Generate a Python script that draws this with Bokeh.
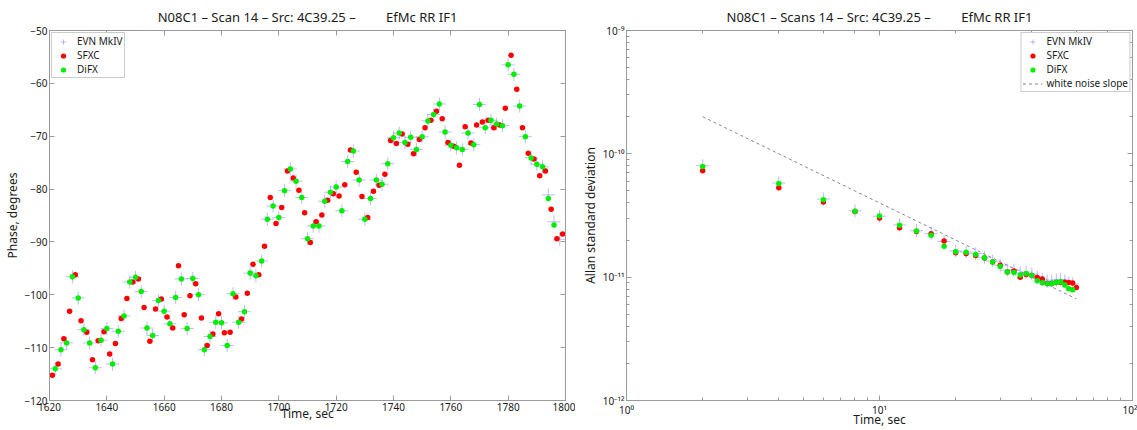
from bokeh.plotting import figure
from bokeh.layouts import row
from bokeh.models import (FixedTicker, LinearAxis, LogAxis, Legend, LegendItem,
                          CustomJSTickFormatter, LogTicker, Range1d)
from bokeh.embed import file_html
from bokeh.resources import INLINE

FONT = "Noto Sans"
NB = "\u00a0"

# ---------------- left panel data: phase vs time ----------------
sfxc_t = [1621, 1623, 1625, 1627, 1629, 1631, 1633, 1635, 1637, 1639,
          1641, 1643, 1645, 1647, 1649, 1651, 1653, 1655, 1657, 1659,
          1661, 1663, 1665, 1667, 1669, 1671, 1673, 1675, 1677, 1679,
          1681, 1683, 1685, 1687, 1689, 1691, 1693, 1695, 1697, 1699,
          1701, 1703, 1705, 1707, 1709, 1711, 1713, 1715, 1717, 1719,
          1721, 1723, 1725, 1727, 1729, 1731, 1733, 1735, 1737, 1739,
          1741, 1743, 1745, 1747, 1749, 1751, 1753, 1755, 1757, 1759,
          1761, 1763, 1765, 1767, 1769, 1771, 1773, 1775, 1777, 1779,
          1781, 1783, 1785, 1787, 1789, 1791, 1793, 1795, 1797, 1799]
sfxc_phase = [-115.2, -113.1, -108.3, -103.1, -96.2, -104.9, -107.1, -112.3, -108.7, -107.0,
              -111.2, -109.2, -104.5, -100.7, -97.6, -97.0, -102.4, -108.8, -102.7, -100.8,
              -104.2, -106.3, -94.5, -103.8, -100.2, -97.9, -104.4, -109.6, -107.4, -103.6,
              -107.2, -107.1, -100.4, -104.6, -99.7, -94.2, -96.2, -90.8, -81.6, -86.5,
              -83.5, -76.6, -77.9, -80.2, -84.5, -90.1, -86.2, -84.9, -82.1, -80.9,
              -81.3, -79.2, -72.6, -76.8, -81.4, -85.4, -80.4, -79.3, -77.2, -70.8,
              -71.4, -69.6, -71.5, -73.3, -70.6, -68.4, -67.0, -65.3, -66.7, -71.2,
              -71.9, -75.5, -68.2, -71.3, -67.9, -67.3, -67.0, -68.4, -67.9, -64.7,
              -54.7, -61.1, -68.4, -73.2, -74.3, -77.5, -76.6, -83.8, -89.4, -88.5]

difx_t = [1622, 1624, 1626, 1628, 1630, 1632, 1634, 1636, 1638, 1640,
          1642, 1644, 1646, 1648, 1650, 1652, 1654, 1656, 1658, 1660,
          1662, 1664, 1666, 1668, 1670, 1672, 1674, 1676, 1678, 1680,
          1682, 1684, 1686, 1688, 1690, 1692, 1694, 1696, 1698, 1700,
          1702, 1704, 1706, 1708, 1710, 1712, 1714, 1716, 1718, 1720,
          1722, 1724, 1726, 1728, 1730, 1732, 1734, 1736, 1738, 1740,
          1742, 1744, 1746, 1748, 1750, 1752, 1754, 1756, 1758, 1760,
          1762, 1764, 1766, 1768, 1770, 1772, 1774, 1776, 1778, 1780,
          1782, 1784, 1786, 1788, 1790, 1792, 1794, 1796]
difx_phase = [-114.0, -110.4, -109.1, -96.6, -100.6, -106.6, -109.1, -113.8, -108.6, -106.4,
              -113.1, -106.9, -104.0, -97.6, -96.7, -99.4, -106.3, -107.7, -101.1, -103.1,
              -105.5, -100.5, -97.0, -106.4, -96.9, -100.0, -110.4, -107.9, -105.2, -105.3,
              -109.6, -99.8, -105.2, -103.2, -95.9, -96.4, -93.6, -85.7, -83.2, -85.4,
              -80.3, -76.2, -78.5, -81.6, -89.4, -87.0, -87.0, -82.3, -80.6, -79.6,
              -84.1, -74.8, -72.8, -78.3, -85.7, -81.8, -78.3, -79.1, -75.2, -70.3,
              -69.4, -71.2, -70.2, -72.5, -70.1, -67.1, -65.9, -63.9, -69.2, -71.7,
              -72.2, -72.5, -69.4, -71.6, -64.0, -68.4, -67.0, -67.7, -68.0, -56.5,
              -58.3, -64.3, -70.1, -74.1, -75.3, -75.8, -81.8, -86.8]

mkiv_t = difx_t + [1798]
mkiv_phase = difx_phase[:-2] + [-81.1, -86.2, -89.5]

left_xticks = [1620, 1640, 1660, 1680, 1700, 1720, 1740, 1760, 1780, 1800]
left_yticks = [-120, -110, -100, -90, -80, -70, -60, -50]

# ---------------- right panel data: Allan deviation ----------------
difx_tau = [2, 4, 6, 8, 10, 12, 14, 16, 18, 20, 22, 24, 26, 28, 30,
            32, 34, 36, 38, 40, 42, 44, 46, 48, 50, 52, 54, 56, 58]
difx_adev = [7.9e-11, 5.75e-11, 4.24e-11, 3.43e-11, 3.13e-11, 2.64e-11, 2.37e-11, 2.19e-11,
             1.78e-11, 1.61e-11, 1.59e-11, 1.53e-11, 1.44e-11, 1.33e-11, 1.22e-11,
             1.10e-11, 1.09e-11, 1.04e-11, 1.07e-11, 1.03e-11, 9.35e-12, 9.0e-12, 8.85e-12,
             8.9e-12, 9.06e-12, 9.18e-12, 8.63e-12, 8.06e-12, 7.9e-12]

sfxc_tau = [2, 4, 6, 8, 10, 12, 14, 16, 18, 20, 22, 24, 26, 28, 30,
            32, 34, 36, 38, 40, 42, 44, 46, 48, 50, 52, 54, 56, 58, 60]
sfxc_adev = [7.3e-11, 5.3e-11, 4.07e-11, 3.4e-11, 3.02e-11, 2.51e-11, 2.35e-11, 2.25e-11,
             1.96e-11, 1.58e-11, 1.55e-11, 1.5e-11, 1.43e-11, 1.33e-11, 1.25e-11,
             1.1e-11, 1.12e-11, 1.0e-11, 1.05e-11, 1.03e-11, 9.95e-12, 9.66e-12, 8.9e-12,
             8.9e-12, 9.06e-12, 9.1e-12, 9.1e-12, 9.06e-12, 8.97e-12, 8.26e-12]

mkiv_tau = difx_tau
mkiv_adev = [8.0e-11, 5.8e-11, 4.3e-11, 3.45e-11, 3.12e-11, 2.65e-11, 2.38e-11, 2.25e-11,
             1.95e-11, 1.63e-11, 1.6e-11, 1.55e-11, 1.45e-11, 1.35e-11, 1.25e-11,
             1.14e-11, 1.14e-11, 1.08e-11, 1.1e-11, 1.06e-11, 1.0e-11, 9.6e-12, 9.3e-12,
             9.3e-12, 9.5e-12, 9.6e-12, 9.3e-12, 9.0e-12, 8.8e-12]

wn_tau = [2, 60]
wn_adev = [2.0e-10, 6.67e-12]

# ---------------- styling helpers ----------------
AX = "#9a9a9a"
TXT = "#1a1a1a"
BLUE = "#7878ff"

blank_fmt = CustomJSTickFormatter(code='return "";')


def style_axis(ax, show_labels=True, xaxis=False):
    ax.axis_line_color = AX
    ax.major_tick_line_color = AX
    ax.minor_tick_line_color = AX
    ax.major_tick_in = 5
    ax.major_tick_out = 0
    ax.minor_tick_in = 3
    ax.minor_tick_out = 0
    ax.major_label_text_font = FONT
    ax.major_label_text_color = TXT
    ax.axis_label_text_font = FONT
    ax.axis_label_text_font_style = "normal"
    ax.axis_label_text_color = TXT
    ax.axis_label_text_font_size = "12px"
    ax.axis_label_standoff = -9 if xaxis else 1
    if show_labels:
        ax.major_label_text_font_size = "10px"
        ax.major_label_standoff = 2
    else:
        ax.formatter = blank_fmt
        ax.major_label_text_font_size = "1px"
        ax.major_label_standoff = 0


minus_fmt = CustomJSTickFormatter(code="""
    return (tick < 0 ? "\\u2212" : "") + Math.abs(tick).toString();
""")
pow_fmt = CustomJSTickFormatter(code="""
    const sup = {"-":"\\u207B","0":"\\u2070","1":"\\u00B9","2":"\\u00B2","3":"\\u00B3",
                 "4":"\\u2074","5":"\\u2075","6":"\\u2076","7":"\\u2077","8":"\\u2078","9":"\\u2079"};
    const e = Math.round(Math.log10(tick));
    return "10" + String(e).split("").map(c => sup[c]).join("");
""")


def add_legend(p, items, loc):
    lg = Legend(items=items, location=loc)
    lg.label_text_font = FONT
    lg.label_text_font_size = "10px"
    lg.label_text_color = TXT
    lg.label_text_line_height = 1.0
    lg.label_height = 13
    lg.glyph_height = 13
    lg.glyph_width = 20
    lg.label_standoff = 4
    lg.spacing = 0
    lg.padding = 1
    lg.margin = 2
    lg.border_line_color = AX
    lg.background_fill_alpha = 1.0
    p.add_layout(lg)
    return lg


def style_title(p, off):
    p.title.align = "center"
    p.title.text_font = FONT
    p.title.text_font_size = "13px"
    p.title.text_font_style = "normal"
    p.title.text_color = TXT
    p.title.standoff = 9
    p.title.offset = off


# ---------------- left figure ----------------
p1 = figure(width=575, height=430, output_backend="svg", toolbar_location=None,
            x_range=Range1d(1620, 1800), y_range=Range1d(-120, -50),
            min_border_left=49, min_border_right=10, min_border_top=30, min_border_bottom=0,
            title="N08C1 \u2013 Scan 14 \u2013 Src: 4C39.25 \u2013" + NB * 9 + "EfMc RR IF1")
style_title(p1, 6)
p1.grid.visible = False
p1.outline_line_color = AX
p1.xaxis.ticker = FixedTicker(ticks=left_xticks)
p1.yaxis.ticker = FixedTicker(ticks=left_yticks)
p1.yaxis.formatter = minus_fmt
p1.xaxis.axis_label = "Time, sec"
p1.yaxis.axis_label = "Phase, degrees"
style_axis(p1.xaxis[0], xaxis=True)
style_axis(p1.yaxis[0])
ax_top = LinearAxis(ticker=FixedTicker(ticks=left_xticks))
style_axis(ax_top, False)
p1.add_layout(ax_top, "above")
ax_right = LinearAxis(ticker=FixedTicker(ticks=left_yticks))
style_axis(ax_right, False)
p1.add_layout(ax_right, "right")

r1b = p1.scatter(mkiv_t, mkiv_phase, marker="cross", size=13, line_color=BLUE,
                 line_alpha=0.5, line_width=1)
r1r = p1.scatter(sfxc_t, sfxc_phase, marker="circle", size=5.5, fill_color="#ff0000",
                 line_color=None)
r1g = p1.scatter(difx_t, difx_phase, marker="circle", size=5.5, fill_color="#00ee00",
                 line_color=None)
add_legend(p1, [LegendItem(label="EVN MkIV", renderers=[r1b]),
                LegendItem(label="SFXC", renderers=[r1r]),
                LegendItem(label="DiFX", renderers=[r1g])], "top_left")

# ---------------- right figure ----------------
p2 = figure(width=562, height=430, output_backend="svg", toolbar_location=None,
            x_axis_type="log", y_axis_type="log",
            x_range=Range1d(1, 100), y_range=Range1d(1e-12, 1e-9),
            min_border_left=51, min_border_right=5, min_border_top=30, min_border_bottom=0,
            title="N08C1 \u2013 Scans 14 \u2013 Src: 4C39.25 \u2013" + NB * 9 + "EfMc RR IF1")
style_title(p2, 3)
p2.grid.visible = False
p2.outline_line_color = AX
p2.xaxis.formatter = pow_fmt
p2.yaxis.formatter = pow_fmt
p2.xaxis.axis_label = "Time, sec"
p2.yaxis.axis_label = "Allan standard deviation"
style_axis(p2.xaxis[0], xaxis=True)
style_axis(p2.yaxis[0])
ax2_top = LogAxis(ticker=LogTicker())
style_axis(ax2_top, False)
p2.add_layout(ax2_top, "above")
ax2_right = LogAxis(ticker=LogTicker())
style_axis(ax2_right, False)
p2.add_layout(ax2_right, "right")

r2b = p2.scatter(mkiv_tau, mkiv_adev, marker="cross", size=13, line_color=BLUE,
                 line_alpha=0.5, line_width=1)
r2r = p2.scatter(sfxc_tau, sfxc_adev, marker="circle", size=5.5, fill_color="#ff0000",
                 line_color=None)
r2g = p2.scatter(difx_tau, difx_adev, marker="circle", size=5.5, fill_color="#00ee00",
                 line_color=None)
r2l = p2.line(wn_tau, wn_adev, line_color="#888888", line_dash="3 3", line_width=1)
add_legend(p2, [LegendItem(label="EVN MkIV", renderers=[r2b]),
                LegendItem(label="SFXC", renderers=[r2r]),
                LegendItem(label="DiFX", renderers=[r2g]),
                LegendItem(label="white noise slope", renderers=[r2l])], "top_right")

layout = row(p1, p2)
open("out.html", "w").write(file_html(layout, INLINE))
